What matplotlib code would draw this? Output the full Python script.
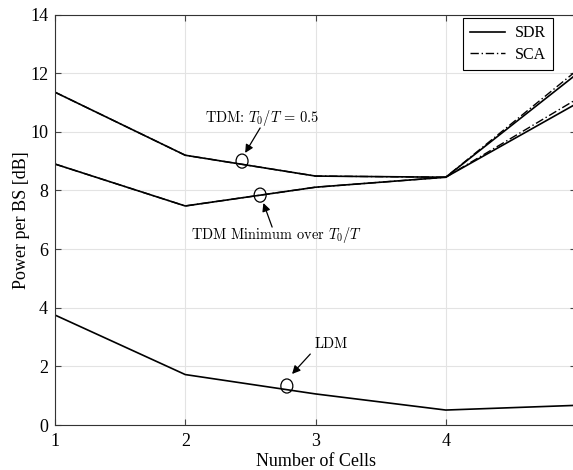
import matplotlib
matplotlib.use("Agg")
import matplotlib.pyplot as plt
from matplotlib.patches import Ellipse

cells = [1, 2, 3, 4, 5]
tdm_half_sdr = [11.35, 9.2, 8.49, 8.45, 11.95]
tdm_half_sca = [11.35, 9.2, 8.49, 8.45, 12.07]
tdm_min_sdr = [8.9, 7.47, 8.11, 8.45, 10.95]
tdm_min_sca = [8.9, 7.47, 8.11, 8.45, 11.1]
ldm_sdr = [3.75, 1.72, 1.06, 0.51, 0.67]

xticks = [1, 2, 3, 4, 5]
yticks = [0, 2, 4, 6, 8, 10, 12, 14]

plt.rcParams['font.family'] = ['Liberation Serif', 'DejaVu Serif']
plt.rcParams['mathtext.fontset'] = 'cm'

fig = plt.figure(figsize=(5.73, 4.70), dpi=100)
ax = fig.add_axes([55/573, 1-425/470, (576-55)/573, (425-14.5)/470])

lw = 1.2
ax.plot(cells, tdm_half_sdr, color='black', lw=lw, label='SDR')
ax.plot(cells, tdm_half_sca, color='black', lw=1.0, ls=(0, (6, 2, 1, 2)), label='SCA')
ax.plot(cells, tdm_min_sdr, color='black', lw=lw)
ax.plot(cells, tdm_min_sca, color='black', lw=1.0, ls=(0, (6, 2, 1, 2)))
ax.plot(cells, ldm_sdr, color='black', lw=lw)

ax.set_xlim(1, 5)
ax.set_ylim(0, 14)
ax.set_xticks(xticks)
ax.set_yticks(yticks)
ax.grid(True, color='#e3e3e3', lw=0.8)
ax.set_axisbelow(True)
ax.tick_params(direction='in', top=True, right=True, labelsize=13, length=4,
               color='#444444')
ax.tick_params(axis='x', pad=6)
ax.tick_params(axis='y', pad=5)
for s in ax.spines.values():
    s.set_color('#333333')
    s.set_linewidth(0.8)
ax.set_xlabel('Number of Cells', fontsize=13, labelpad=2)
ax.set_ylabel('Power per BS [dB]', fontsize=13, labelpad=0)

leg = ax.legend(loc='upper right', bbox_to_anchor=(0.956, 0.991), fontsize=11.5,
                fancybox=False, edgecolor='black', framealpha=1, handlelength=2.2,
                borderpad=0.45, labelspacing=0.35, borderaxespad=0, handletextpad=0.6)
leg.get_frame().set_linewidth(0.8)

def mark(ex, ey, tail, head, txt, tpos):
    ax.add_patch(Ellipse((ex, ey), 0.092, 0.48, fill=False, color='black', lw=0.9))
    ax.annotate('', xy=head, xytext=tail,
                arrowprops=dict(arrowstyle='-|>', color='black', lw=0.9,
                                mutation_scale=12, shrinkA=0, shrinkB=0))
    ax.text(tpos[0], tpos[1], txt, ha='center', va='center', fontsize=10.4,
            family='cmr10')

mark(2.436, 9.0, (2.575, 10.13), (2.46, 9.28), r'TDM: $T_0/T\,=\,0.5$', (2.59, 10.47))
mark(2.575, 7.84, (2.667, 6.75), (2.60, 7.57), r'TDM Minimum over $T_0/T$', (2.70, 6.48))
mark(2.78, 1.33, (2.96, 2.42), (2.82, 1.74), r'LDM', (3.12, 2.76))

fig.savefig('out.png', dpi=100)
